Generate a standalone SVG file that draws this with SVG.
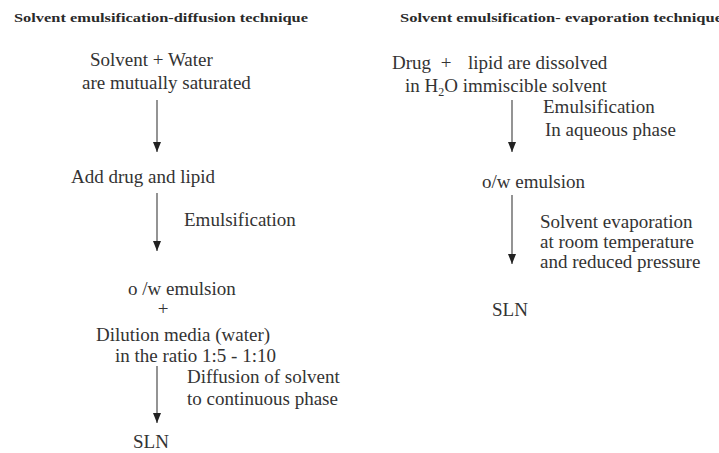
<svg xmlns="http://www.w3.org/2000/svg" width="719" height="453" viewBox="0 0 719 453">
<style>
  text { font-family: "Liberation Serif", "DejaVu Serif", serif; }
  .t { font-size: 19px; fill: #333; }
  .h { font-size: 13px; font-weight: bold; fill: #2a2a2a; }
  .c { stroke: #666; stroke-width: 1.4; fill: none; }
</style>
<defs>
  <marker id="ah" viewBox="0 0 10 8" refX="10" refY="4" markerWidth="10" markerHeight="8" markerUnits="userSpaceOnUse" orient="auto">
    <path d="M0,0 L10,4 L0,8 Z" fill="#222"/>
  </marker>
</defs>
<rect width="719" height="453" fill="#fff"/>

<g id="title-left"><text class="h" x="14" y="22" textLength="294" lengthAdjust="spacingAndGlyphs">Solvent emulsification-diffusion technique</text></g>
<g id="title-right"><text class="h" x="400" y="22" textLength="322" lengthAdjust="spacingAndGlyphs">Solvent emulsification- evaporation technique</text></g>

<g id="l-start">
  <text class="t" x="90" y="66">Solvent + Water</text>
  <text class="t" x="82" y="89">are mutually saturated</text>
</g>
<g id="l-add"><text class="t" x="71" y="183">Add drug and lipid</text></g>
<g id="l-emul-label"><text class="t" x="184" y="226">Emulsification</text></g>
<g id="l-ow">
  <text class="t" x="128" y="295">o /w emulsion</text>
  <text class="t" x="163" y="315" text-anchor="middle">+</text>
  <text class="t" x="96" y="341">Dilution media (water)</text>
  <text class="t" x="115" y="362">in the ratio 1:5 - 1:10</text>
</g>
<g id="l-diff-label">
  <text class="t" x="187" y="383">Diffusion of solvent</text>
  <text class="t" x="187" y="405">to continuous phase</text>
</g>
<g id="l-sln"><text class="t" x="133" y="448">SLN</text></g>

<g id="r-start">
  <text class="t" x="392" y="69">Drug</text>
  <text class="t" x="446" y="69" text-anchor="middle">+</text>
  <text class="t" x="468" y="69">lipid are dissolved</text>
  <text class="t" x="405" y="92">in H<tspan font-size="12" dy="4">2</tspan><tspan dy="-4">O immiscible solvent</tspan></text>
</g>
<g id="r-emul-label">
  <text class="t" x="543" y="113">Emulsification</text>
  <text class="t" x="545" y="136">In aqueous phase</text>
</g>
<g id="r-ow"><text class="t" x="482" y="188">o/w emulsion</text></g>
<g id="r-evap-label">
  <text class="t" x="540" y="228">Solvent evaporation</text>
  <text class="t" x="540" y="248">at room temperature</text>
  <text class="t" x="540" y="268">and reduced pressure</text>
</g>
<g id="r-sln"><text class="t" x="492" y="316">SLN</text></g>

<g id="connectors">
  <line class="c" x1="157" y1="100" x2="157" y2="152" marker-end="url(#ah)"/>
  <line class="c" x1="157" y1="193" x2="157" y2="251" marker-end="url(#ah)"/>
  <line class="c" x1="157" y1="366" x2="157" y2="423" marker-end="url(#ah)"/>
  <line class="c" x1="512" y1="100" x2="512" y2="152" marker-end="url(#ah)"/>
  <line class="c" x1="512" y1="195" x2="512" y2="264" marker-end="url(#ah)"/>
</g>
</svg>
